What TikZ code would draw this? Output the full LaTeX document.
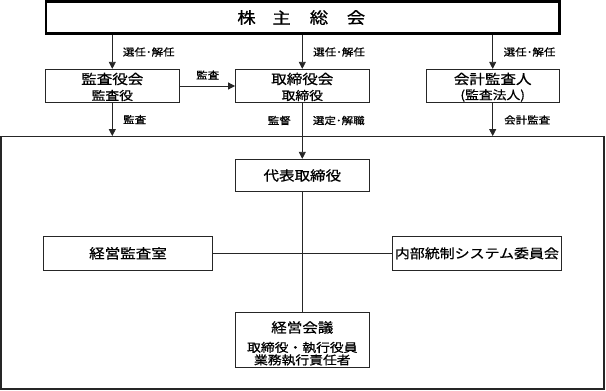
\documentclass[tikz,border=0pt]{standalone}
\usepackage{fontspec}
\setmainfont{Noto Sans CJK JP}[FakeStretch=1.15,FakeBold=0.8,AutoFakeBold=0.8]
\usetikzlibrary{arrows.meta}
\tikzset{
  box/.style={draw=black!85, line width=0.9pt, rectangle, inner sep=0pt, minimum height=33pt},
  txt/.style={inner sep=0pt},
  lab/.style={inner sep=0pt, anchor=west, font=\fontsize{10}{10}\selectfont\bfseries},
  arr/.style={-{Triangle[length=7pt,width=7pt]}, line width=0.8pt, draw=black!85},
  ln/.style={line width=0.8pt, draw=black!85},
  big/.style={txt, font=\fontsize{16}{16}\selectfont\bfseries},
  ttl/.style={txt, font=\fontsize{13.5}{13.5}\selectfont\bfseries},
  sub/.style={txt, font=\fontsize{12}{12}\selectfont\bfseries},
}
\begin{document}
\begin{tikzpicture}[x=1pt,y=-1pt]
\useasboundingbox (0,0) rectangle (606,391);
% top box
\node[draw=black, line width=2.5pt, rectangle, inner sep=0pt, minimum width=513.5pt, minimum height=32pt] (kabu) at (302.75,17.5) {};
\node[big] (k1) at (246.5,17.5) {株};
\node[big] (k2) at (281.5,17.5) {主};
\node[big] (k3) at (319,17.5) {総};
\node[big] (k4) at (356,17.5) {会};
% row 2
\node[box, minimum width=133.3pt, minimum height=33.4pt] (kansakai) at (112.3,86) {};
\node[ttl] (kansakaiT) at (112.3,79) {監査役会};
\node[sub] (kansakaiS) at (112.3,95.5) {監査役};
\node[box, minimum width=133.5pt, minimum height=33.4pt] (torikai) at (302.3,86) {};
\node[ttl] (torikaiT) at (302.3,79) {取締役会};
\node[sub] (torikaiS) at (302.3,95.5) {取締役};
\node[box, minimum width=133.3pt, minimum height=33.4pt] (kaikei) at (492.7,86) {};
\node[ttl] (kaikeiT) at (492.7,79) {会計監査人};
\node[sub] (kaikeiS) at (492.7,95.5) {(監査法人)};
% outer frame
\node[draw=black!85, line width=1.2pt, rectangle, inner sep=0pt, minimum width=603pt, minimum height=252.3pt] (outer) at (302.5,262.8) {};
% inner boxes
\node[box, minimum width=133.5pt, minimum height=32.4pt] (daihyo) at (302.3,175.5) {};
\node[ttl] (daihyoT) at (302.3,175.5) {代表取締役};
\node[box, minimum width=169.4pt, minimum height=33.3pt] (shitsu) at (128,253.3) {};
\node[ttl] (shitsuT) at (128,253.3) {経営監査室};
\node[box, minimum width=168.3pt, minimum height=33.3pt] (naibu) at (476.9,253.3) {};
\node[txt, font=\fontsize{13}{13}\selectfont\bfseries] (naibuT) at (476.9,253.3) {内部統制システム委員会};
\node[box, minimum width=133.5pt, minimum height=55pt] (keiei) at (302.3,340.2) {};
\node[ttl] (keieiT) at (302.3,327.5) {経営会議};
\node[sub] (keieiS1) at (302.3,347.5) {取締役・執行役員};
\node[sub] (keieiS2) at (302.3,360) {業務執行責任者};
% connectors
\draw[arr] (kabu.south -| kansakai.north) -- (kansakai.north);
\draw[arr] (kabu.south -| torikai.north) -- (torikai.north);
\draw[arr] (kabu.south -| kaikei.north) -- (kaikei.north);
\draw[arr] (kansakai.east) -- (torikai.west);
\draw[arr] (kansakai.south) -- (kansakai.south |- outer.north);
\draw[arr] (kaikei.south) -- (kaikei.south |- outer.north);
\draw[arr] (torikai.south) -- (daihyo.north);
\draw[ln] (daihyo.south) -- (keiei.north);
\draw[ln] (shitsu.east) -- (naibu.west);
% labels
\node[lab] (l1) at (122.7,52) {選任･解任};
\node[lab] (l2) at (313,52) {選任･解任};
\node[lab] (l3) at (503.5,52) {選任･解任};
\node[lab] (l4) at (196,75) {監査};
\node[lab] (l5) at (123,119.5) {監査};
\node[lab, anchor=east] (l6) at (291,120.5) {監督};
\node[lab] (l7) at (312.7,120.5) {選定･解職};
\node[lab] (l8) at (504,120) {会計監査};
\end{tikzpicture}
\end{document}
